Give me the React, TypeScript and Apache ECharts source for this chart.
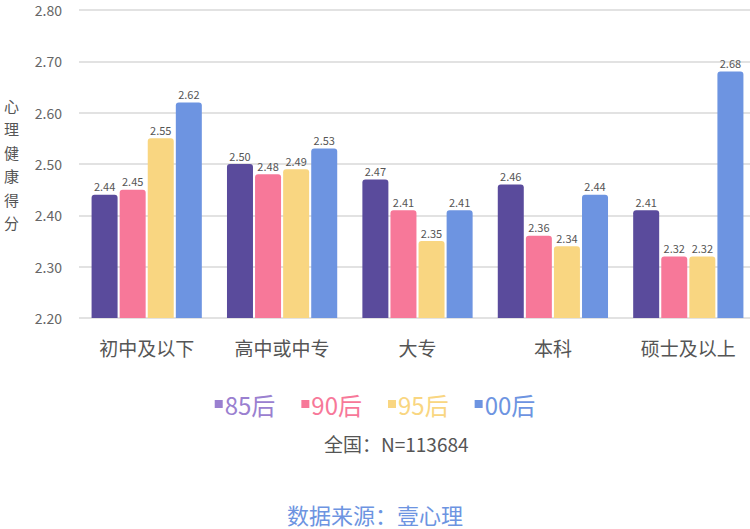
import React, { useEffect, useRef } from 'react';
import * as echarts from 'echarts';

const categories = ['初中及以下', '高中或中专', '大专', '本科', '硕士及以上'];
const seriesNames = ['85后', '90后', '95后', '00后'];
const v85 = [2.44, 2.5, 2.47, 2.46, 2.41];
const v90 = [2.45, 2.48, 2.41, 2.36, 2.32];
const v95 = [2.55, 2.49, 2.35, 2.34, 2.32];
const v00 = [2.62, 2.53, 2.41, 2.44, 2.68];
const barColors = ['#5a4b9c', '#f77899', '#f9d681', '#6d94e1'];
const legendColors = ['#9a80d0', '#f77899', '#f9d681', '#6d94e1'];

const FONT = '"Noto Sans CJK SC", "Noto Sans", sans-serif';

const App = () => {
  const chartRef = useRef(null);

  useEffect(() => {
    if (!chartRef.current) return;
    const chart = echarts.init(chartRef.current, null, { renderer: 'svg' });
    const allValues = [v85, v90, v95, v00];

    chart.setOption({
      animation: false,
      textStyle: { fontFamily: FONT },
      grid: { left: 79, right: -6, top: 10, bottom: 211, outerBoundsMode: 'none' },
      legend: {
        top: 387,
        left: 'center',
        icon: 'rect',
        itemWidth: 8,
        itemHeight: 8,
        itemGap: 26,
        textStyle: { fontSize: 24, padding: [0, 0, 0, -3] },
        data: seriesNames.map((n, i) => ({
          name: n,
          itemStyle: { color: legendColors[i] },
          textStyle: { color: legendColors[i] },
        })),
      },
      xAxis: {
        type: 'category',
        data: categories,
        axisLine: { show: false },
        axisTick: { show: false },
        axisLabel: { color: '#555', fontSize: 19, margin: 20 },
      },
      yAxis: {
        type: 'value',
        min: 2.2,
        max: 2.8,
        interval: 0.1,
        name: '心\n理\n健\n康\n得\n分',
        nameLocation: 'middle',
        nameRotate: 0,
        nameGap: 60,
        nameTextStyle: { color: '#555', fontSize: 15, lineHeight: 23.5 },
        axisLabel: {
          color: '#666',
          fontSize: 14,
          margin: 17,
          formatter: (v: number) => v.toFixed(2),
        },
        splitLine: { lineStyle: { color: '#d9d9d9', width: 1.5 } },
      },
      series: seriesNames.map((n, i) => ({
        name: n,
        type: 'bar',
        data: allValues[i],
        barWidth: 26,
        barGap: '8%',
        itemStyle: { color: barColors[i], borderRadius: [3, 3, 0, 0] },
        label: {
          show: true,
          position: 'top',
          distance: 3,
          color: '#555',
          fontSize: 11,
          formatter: (p: any) => Number(p.value).toFixed(2),
        },
      })),
      graphic: [
        {
          type: 'text',
          left: 324,
          top: 434,
          style: { text: '全国：N=113684', fill: '#555', fontSize: 19, fontFamily: FONT },
        },
        {
          type: 'text',
          left: 'center',
          top: 503,
          style: { text: '数据来源：壹心理', fill: '#6d94e1', fontSize: 22, fontFamily: FONT },
        },
      ],
    });

    return () => {
      chart.dispose();
    };
  }, []);

  return (
    <div
      ref={chartRef}
      style={{ position: 'absolute', left: 0, top: 0, width: 750, height: 529, background: '#fff' }}
    />
  );
};

export default App;
